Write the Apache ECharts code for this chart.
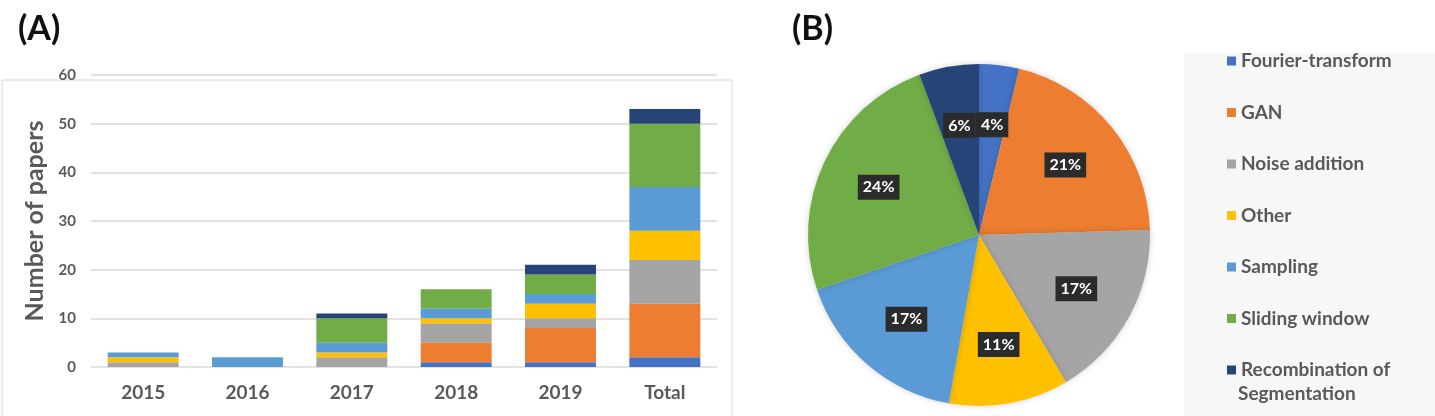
<!DOCTYPE html>
<html>
<head>
<meta charset="utf-8">
<script src="https://cdn.jsdelivr.net/npm/echarts@6/dist/echarts.min.js"></script>
<style>
  html, body { margin: 0; padding: 0; background: #fff; }
  #chart { width: 1435px; height: 416px; }
</style>
</head>
<body>
<div id="chart"></div>
<script>
// data
const years = ['2015', '2016', '2017', '2018', '2019', 'Total'];
const methods = ['Fourier-transform', 'GAN', 'Noise addition', 'Other', 'Sampling', 'Sliding window', 'Recombination of Segmentation'];
const colors = ['#4472C4', '#ED7D31', '#A5A5A5', '#FFC000', '#5B9BD5', '#70AD47', '#264478'];

const fourier  = [0, 0, 0, 1, 1, 2];
const gan      = [0, 0, 0, 4, 7, 11];
const noise    = [1, 0, 2, 4, 2, 9];
const other    = [1, 0, 1, 1, 3, 6];
const sampling = [1, 2, 2, 2, 2, 9];
const sliding  = [0, 0, 5, 4, 4, 13];
const recomb   = [0, 0, 1, 0, 2, 3];
const yTicks = [0, 10, 20, 30, 40, 50, 60];

const barValues = [fourier, gan, noise, other, sampling, sliding, recomb];
// pie uses the "Total" column
const pieValues = barValues.map(v => v[v.length - 1]);
const pieTotal = pieValues.reduce((a, b) => a + b, 0);

// whole percentages that add up to 100 (largest remainder, like the pie does)
function roundedPercents(vals) {
  const sum = vals.reduce((a, b) => a + b, 0);
  const raw = vals.map(v => v / sum * 100);
  const out = raw.map(Math.floor);
  let left = 100 - out.reduce((a, b) => a + b, 0);
  const order = raw.map((r, i) => [r - Math.floor(r), i]).sort((a, b) => b[0] - a[0]);
  for (let k = 0; k < left; k++) out[order[k][1]] += 1;
  return out;
}
const piePercents = roundedPercents(pieValues);

const FONT = 'Lato, "Open Sans", sans-serif';
const GREY = '#595959';
const PIE_CENTER = [979, 235];
const PIE_R = 171;

const chart = echarts.init(document.getElementById('chart'));

const barSeries = methods.map((name, i) => ({
  name: name,
  type: 'bar',
  stack: 'papers',
  barCategoryGap: '32%',
  itemStyle: { color: colors[i] },
  emphasis: { disabled: true },
  data: barValues[i]
}));

const pieData = methods.map((name, i) => ({
  name: name,
  value: pieValues[i],
  itemStyle: { color: colors[i] }
}));

// label anchors: middle of each slice on a polar axis that spans the pie total
let acc = 0;
const labelPoints = pieValues.map((v, i) => {
  const mid = acc + v / 2;
  acc += v;
  return { value: [0.65, mid], pct: piePercents[i] };
});

const option = {
  animation: false,
  textStyle: { fontFamily: FONT },
  graphic: [
    {
      type: 'rect',
      shape: { x: 2, y: 80, width: 730, height: 345 },
      style: { fill: 'none', stroke: '#d9d9d9', lineWidth: 1 }
    },
    {
      type: 'rect',
      shape: { x: 1184, y: 53, width: 260, height: 370 },
      style: { fill: '#f7f7f7' },
      z: -1
    },
    {
      type: 'text', left: 18, top: 12,
      style: { text: '(A)', font: 'bold 34px ' + FONT, fill: '#111' }
    },
    {
      type: 'text', left: 792, top: 12,
      style: { text: '(B)', font: 'bold 34px ' + FONT, fill: '#111' }
    },
    {
      // second line of the last legend entry
      type: 'text', left: 1238, top: 384,
      style: { text: 'Segmentation', font: 'bold 19px ' + FONT, fill: GREY }
    }
  ],
  legend: {
    orient: 'vertical',
    left: 1222,
    top: 46,
    height: 380,
    itemWidth: 9,
    itemHeight: 9,
    itemGap: 31.5,
    icon: 'rect',
    textStyle: { fontFamily: FONT, fontWeight: 'bold', fontSize: 19, color: GREY, lineHeight: 20 },
    formatter: name => name === 'Recombination of Segmentation' ? 'Recombination of' : name,
    data: methods
  },
  grid: { left: 91, right: 718, top: 75, bottom: 49 },
  xAxis: {
    type: 'category',
    data: years,
    axisLine: { show: false },
    axisTick: { show: false },
    axisLabel: { color: GREY, fontWeight: 'bold', fontSize: 19, margin: 16, fontFamily: FONT }
  },
  yAxis: {
    type: 'value',
    min: yTicks[0],
    max: yTicks[yTicks.length - 1],
    interval: 10,
    name: 'Number of papers',
    nameLocation: 'middle',
    nameGap: 44,
    nameTextStyle: { color: GREY, fontWeight: 'bold', fontSize: 25, fontFamily: FONT },
    axisLabel: { color: GREY, fontWeight: 'bold', fontSize: 15, margin: 15, fontFamily: FONT },
    splitLine: { lineStyle: { color: '#d9d9d9', width: 1.5 } }
  },
  polar: { center: PIE_CENTER, radius: PIE_R },
  angleAxis: {
    type: 'value', min: 0, max: pieTotal, startAngle: 90, clockwise: true,
    show: false, axisLine: { show: false }, splitLine: { show: false }
  },
  radiusAxis: {
    type: 'value', min: 0, max: 1,
    show: false, axisLine: { show: false }, splitLine: { show: false }
  },
  series: barSeries.concat([
    {
      name: 'share',
      type: 'pie',
      center: PIE_CENTER,
      radius: [0, PIE_R],
      startAngle: 90,
      clockwise: true,
      label: { show: false },
      labelLine: { show: false },
      emphasis: { disabled: true },
      itemStyle: { shadowBlur: 6, shadowColor: 'rgba(0,0,0,0.18)' },
      data: pieData
    },
    {
      name: 'pie labels',
      type: 'scatter',
      coordinateSystem: 'polar',
      symbolSize: 1,
      silent: true,
      z: 5,
      itemStyle: { color: 'rgba(0,0,0,0)', opacity: 1 },
      label: {
        show: true,
        position: 'inside',
        formatter: p => p.data.pct + '%',
        color: '#fff',
        fontWeight: 'bold',
        fontSize: 16,
        fontFamily: FONT,
        backgroundColor: '#2b2b2b',
        padding: [5, 5, 4, 5]
      },
      data: labelPoints
    }
  ])
};

chart.setOption(option);
</script>
</body>
</html>
